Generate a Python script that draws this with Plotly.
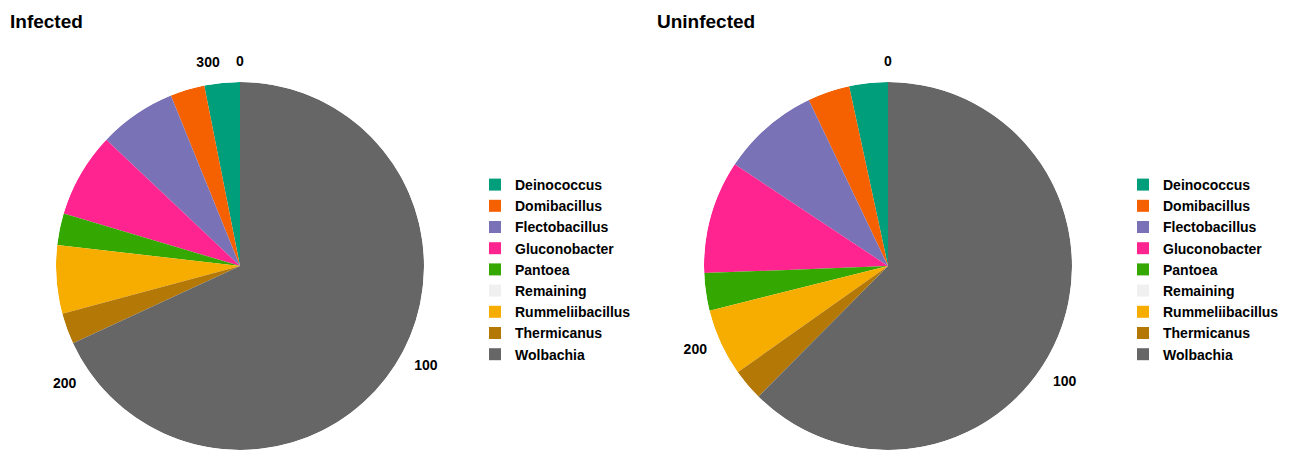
import plotly.graph_objects as go

categories = ["Deinococcus", "Domibacillus", "Flectobacillus", "Gluconobacter",
              "Pantoea", "Remaining", "Rummeliibacillus", "Thermicanus", "Wolbachia"]
infected = [9.5, 9.2, 20.8, 22.7, 8.5, 0.0, 18.3, 8.3, 207.7]
uninfected = [9.9, 10.8, 25.1, 29.0, 9.6, 0.0, 17.2, 8.1, 182.3]
colors = ["#009E7A", "#F56000", "#7A72B6", "#FF2490", "#34A700",
          "#F0F0F0", "#F7AD00", "#B47807", "#666666"]
tick_values = [0, 100, 200, 300]
panel_titles = ["Infected", "Uninfected"]

W, H = 1291, 450
FONT = "Liberation Sans, Arial, Helvetica, sans-serif"

fig = go.Figure()


def add_pie(values, polar_id, legend_id):
    total = sum(values)
    # ggplot-style stacking: last category starts at 0, going clockwise
    cum = 0.0
    starts = {}
    for i in reversed(range(len(values))):
        starts[i] = cum
        cum += values[i]
    for i, name in enumerate(categories):
        v = values[i]
        fig.add_trace(go.Barpolar(
            r=[1], theta=[(starts[i] + v / 2) * 360 / total],
            width=[v * 360 / total],
            name=name, marker=dict(color=colors[i], line=dict(width=0)),
            subplot=polar_id, legend=legend_id, hoverinfo="name",
        ))
    ticks = [t for t in tick_values if t < total]
    return [t * 360 / total for t in ticks], [str(t) for t in ticks]


tv1, tt1 = add_pie(infected, "polar", "legend")
tv2, tt2 = add_pie(uninfected, "polar2", "legend2")

R = 184
top = 74
bottom = 8
PH = H - top - bottom


def dom(cx):
    return [(cx - R) / W, (cx + R) / W]


def polar_layout(cx, tv, tt):
    return dict(
        domain=dict(x=dom(cx), y=[0, 1]),
        bgcolor="white",
        bargap=0,
        radialaxis=dict(visible=False, range=[0, 1]),
        angularaxis=dict(rotation=90, direction="clockwise", tickmode="array",
                         tickvals=tv, ticktext=tt, showgrid=False, showline=False,
                         ticks="outside", ticklen=10, tickcolor="rgba(0,0,0,0)",
                         tickfont=dict(family=FONT, size=14, color="black", weight="bold")),
    )


legend_common = dict(
    font=dict(family=FONT, size=14, color="black", weight="bold"),
    xref="paper", yref="paper", yanchor="top", xanchor="left",
    bgcolor="rgba(0,0,0,0)", traceorder="normal", itemclick=False,
)

legend_top_px = 161
title_y = 1 + (top - 14) / PH
fig.update_layout(
    width=W, height=H,
    margin=dict(l=0, r=0, t=top, b=bottom, autoexpand=False),
    paper_bgcolor="white", plot_bgcolor="white",
    showlegend=True,
    polar=polar_layout(232, tv1, tt1),
    polar2=polar_layout(880, tv2, tt2),
    legend=dict(x=467 / W, y=1 - (legend_top_px - top) / PH, **legend_common),
    legend2=dict(x=1115 / W, y=1 - (legend_top_px - top) / PH, **legend_common),
    annotations=[
        dict(text=panel_titles[0], x=0 / W, y=title_y, xref="paper", yref="paper",
             xanchor="left", yanchor="middle", showarrow=False,
             font=dict(family=FONT, size=19, color="black", weight="bold")),
        dict(text=panel_titles[1], x=647 / W, y=title_y, xref="paper", yref="paper",
             xanchor="left", yanchor="middle", showarrow=False,
             font=dict(family=FONT, size=19, color="black", weight="bold")),
    ],
)

fig.write_html("out.html")
